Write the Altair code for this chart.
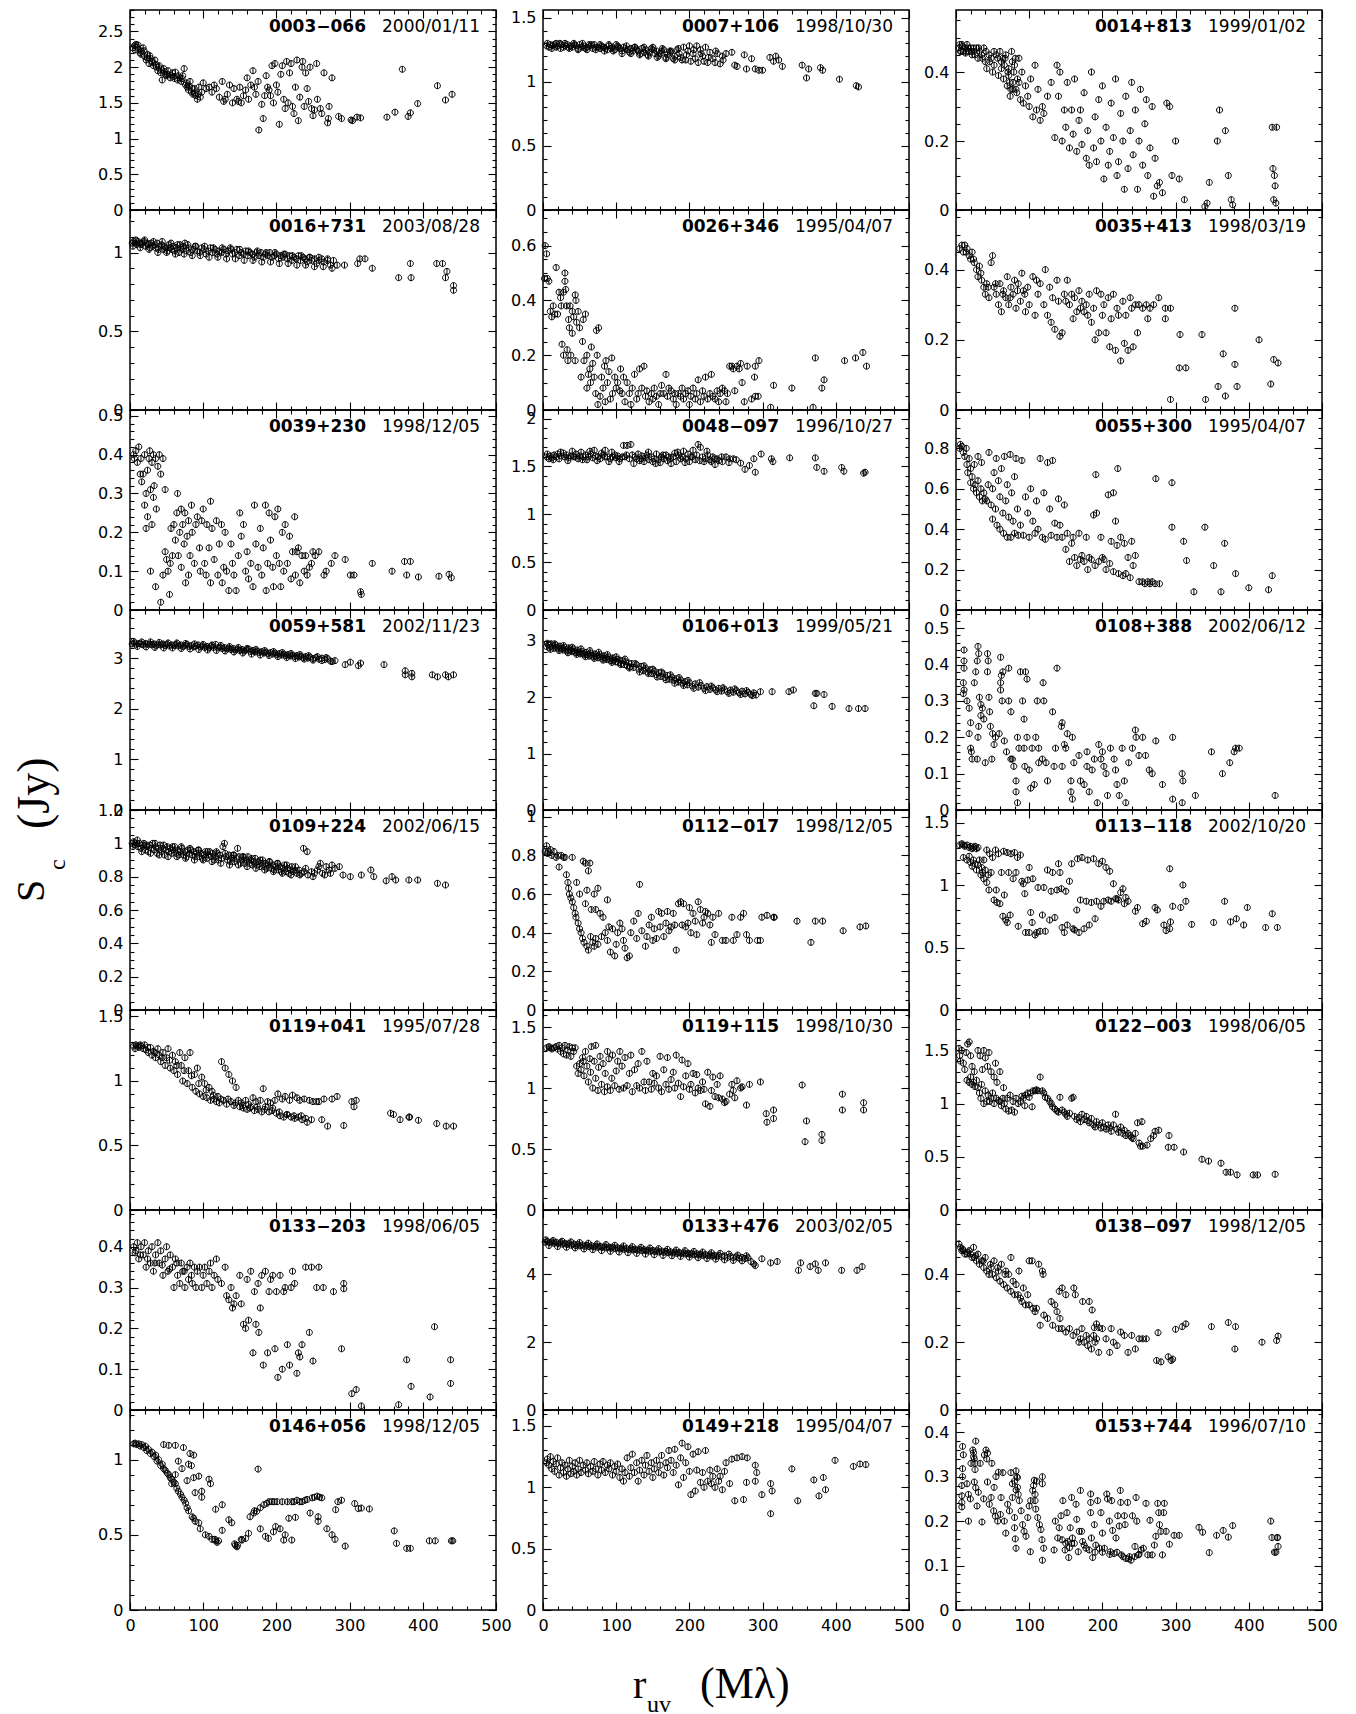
import altair as alt
import pandas as pd

W, H = 366, 200
FONT = "DejaVu Sans"
SERIF = "Liberation Serif"
SYMBOL = "M-1,0A1,1,0,1,1,1,0A1,1,0,1,1,-1,0Z M0,-1L0,1"

NAMES = ["0003−066", "0007+106", "0014+813", "0016+731", "0026+346", "0035+413",
         "0039+230", "0048−097", "0055+300", "0059+581", "0106+013", "0108+388",
         "0109+224", "0112−017", "0113−118", "0119+041", "0119+115", "0122−003",
         "0133−203", "0133+476", "0138−097", "0146+056", "0149+218", "0153+744"]
DATES = ["2000/01/11", "1998/10/30", "1999/01/02", "2003/08/28", "1995/04/07", "1998/03/19",
         "1998/12/05", "1996/10/27", "1995/04/07", "2002/11/23", "1999/05/21", "2002/06/12",
         "2002/06/15", "1998/12/05", "2002/10/20", "1995/07/28", "1998/10/30", "1998/06/05",
         "1998/06/05", "2003/02/05", "1998/12/05", "1998/12/05", "1995/04/07", "1996/07/10"]
YMAX = [2.8, 1.56, 0.58, 1.27, 0.73, 0.57, 0.515, 2.09, 0.99, 3.95, 3.55, 0.55,
        1.2, 1.035, 1.6, 1.55, 1.64, 1.88, 0.49, 5.9, 0.59, 1.33, 1.63, 0.45]
YSTEP = [0.5, 0.5, 0.2, 0.5, 0.2, 0.2, 0.1, 0.5, 0.2, 1, 1, 0.1,
         0.2, 0.2, 0.5, 0.5, 0.5, 0.5, 0.1, 2, 0.2, 0.5, 0.5, 0.1]
YMINOR = [0.1, 0.1, 0.05, 0.1, 0.05, 0.05, 0.02, 0.1, 0.05, 0.2, 0.2, 0.02,
          0.05, 0.05, 0.1, 0.1, 0.1, 0.1, 0.02, 0.5, 0.05, 0.1, 0.1, 0.02]
X_MAJOR = [0, 100, 200, 300, 400, 500]
X_MINOR = [20, 40, 60, 80, 120, 140, 160, 180, 220, 240, 260, 280,
           320, 340, 360, 380, 420, 440, 460, 480]

P00 = [(4,2.27),(6,2.3),(8,2.32),(10,2.28),(12,2.25),(14,2.2),(16,2.22),(18,2.27),(20,2.15),(22,2.1),(24,2.18),(26,2.05),(28,2.12),(30,2.08),(32,2.02),(34,2.1),(36,2.0),(38,1.95),(40,2.02),(42,1.92),(44,1.82),(46,1.98),(48,1.9),(50,1.88),(52,1.95),(55,1.85),(58,1.92),(60,1.87),(62,1.93),(65,1.82),(68,1.85),(70,1.8),(72,1.88),(74,1.98),(76,1.75),(78,1.72),(80,1.68),(82,1.8),(84,1.65),(86,1.62),(88,1.7),(90,1.6),(92,1.55),(94,1.72),(96,1.58),(98,1.65),(100,1.78),(104,1.7),(108,1.72),(112,1.65),(115,1.75),(118,1.7),(122,1.58),(126,1.8),(128,1.52),(130,1.55),(133,1.62),(136,1.75),(140,1.5),(142,1.7),(146,1.55),(148,1.52),(150,1.72),(152,1.5),(155,1.6),(158,1.68),(160,1.85),(162,1.55),(165,1.75),(168,1.95),(170,1.72),(172,1.62),(175,1.8),(176,1.12),(180,1.48),(182,1.28),(184,1.6),(186,1.88),(188,1.72),(190,1.68),(192,1.6),(194,2.02),(196,1.5),(198,2.05),(200,1.75),(202,1.65),(204,1.2),(206,1.9),(208,2.02),(210,1.55),(212,1.42),(214,2.08),(216,1.5),(218,1.92),(220,2.05),(222,1.45),(224,1.35),(226,1.72),(228,2.1),(230,1.25),(232,1.58),(235,2.0),(236,2.08),(238,1.45),(240,1.92),(242,1.7),(244,1.52),(246,2.0),(248,1.42),(250,1.32),(252,1.4),(255,2.05),(256,1.55),(260,1.42),(262,1.35),(265,1.92),(270,1.22),(271,1.28),(272,1.45),(276,1.85),(285,1.31),(289,1.28),(302,1.26),(304,1.25),(310,1.3),(315,1.29),(351,1.3),(362,1.37),(372,1.97),(380,1.31),(383,1.36),(393,1.49),(420,1.74),(431,1.54),(440,1.62),
       (7,2.24),(11,2.31),(15,2.18),(19,2.23),(23,2.13),(27,2.16),(31,2.06),(35,2.04),(39,2.0),(43,1.96),(47,1.94),(51,1.9),(56,1.89),(61,1.84),(66,1.88),(71,1.84),(77,1.78),(81,1.74),(85,1.7),(89,1.64),(93,1.62)]

P01 = [(5,1.28),(8,1.27),(10,1.29),(13,1.28),(15,1.29),(18,1.27),(20,1.28),(23,1.3),(25,1.29),(28,1.27),(30,1.28),(33,1.29),(35,1.27),(38,1.28),(40,1.27),(43,1.29),(45,1.28),(48,1.26),(50,1.29),(53,1.27),(55,1.28),(58,1.26),(60,1.27),(63,1.29),(65,1.28),(68,1.26),(70,1.29),(73,1.27),(75,1.27),(78,1.26),(80,1.28),(83,1.27),(85,1.26),(88,1.25),(90,1.28),(93,1.26),(95,1.27),(98,1.25),(100,1.29),(103,1.27),(105,1.26),(108,1.24),(110,1.27),(113,1.26),(115,1.25),(118,1.23),(120,1.26),(123,1.24),(125,1.27),(128,1.25),(130,1.24),(133,1.22),(135,1.26),(138,1.23),(140,1.25),(143,1.21),(145,1.23),(148,1.26),(150,1.27),(153,1.22),(155,1.24),(158,1.2),(160,1.22),(163,1.26),(165,1.25),(168,1.19),(170,1.21),(173,1.24),(175,1.24),(178,1.18),(180,1.2),(183,1.25),(185,1.26),(188,1.19),(190,1.17),(192,1.27),(195,1.17),(198,1.24),(200,1.28),(202,1.16),(205,1.22),(208,1.18),(210,1.28),(212,1.15),(215,1.25),(218,1.2),(220,1.16),(222,1.27),(225,1.15),(228,1.23),(232,1.18),(235,1.15),(238,1.22),(242,1.14),(245,1.2),(250,1.22),(258,1.23),(262,1.13),(265,1.12),(275,1.21),(278,1.1),(285,1.18),(290,1.1),(295,1.09),(300,1.09),(310,1.19),(315,1.16),(318,1.2),(322,1.17),(327,1.12),(354,1.13),(360,1.03),(363,1.1),(379,1.11),(382,1.09),(405,1.02),(428,0.97),(431,0.96),
       (6,1.3),(12,1.26),(18,1.3),(24,1.26),(30,1.3),(36,1.26),(42,1.3),(48,1.25),(54,1.3),(60,1.25),(66,1.29),(72,1.25),(78,1.29),(84,1.24),(90,1.29),(96,1.24),(102,1.28),(108,1.22),(114,1.28),(120,1.22),(126,1.27),(132,1.21),(138,1.27),(144,1.2),(150,1.25),(156,1.19),(162,1.24),(168,1.18),(174,1.23),(180,1.17),(186,1.22),(196,1.21),(206,1.25),(216,1.22),(226,1.19),(236,1.24),(246,1.17)]

P02 = [(4,0.47),(5,0.48),(7,0.46),(8,0.48),(10,0.46),(12,0.47),(14,0.46),(15,0.48),(18,0.46),(20,0.47),(22,0.45),(24,0.47),(25,0.46),(28,0.47),(30,0.44),(32,0.46),(35,0.45),(38,0.47),(40,0.43),(42,0.41),(45,0.45),(48,0.44),(50,0.4),(52,0.42),(55,0.45),(58,0.39),(60,0.46),(62,0.43),(64,0.44),(65,0.38),(66,0.42),(68,0.45),(70,0.36),(71,0.4),(72,0.41),(73,0.37),(74,0.33),(75,0.35),(76,0.46),(77,0.43),(78,0.37),(80,0.42),(82,0.35),(84,0.38),(86,0.44),(88,0.32),(90,0.4),(92,0.31),(95,0.36),(98,0.33),(100,0.3),(102,0.38),(105,0.27),(108,0.42),(110,0.29),(112,0.35),(115,0.26),(118,0.3),(120,0.28),(125,0.33),(130,0.37),(135,0.21),(138,0.42),(140,0.33),(142,0.4),(145,0.2),(148,0.29),(150,0.24),(152,0.37),(155,0.18),(158,0.29),(160,0.22),(162,0.38),(165,0.17),(168,0.26),(170,0.29),(172,0.19),(175,0.34),(178,0.15),(180,0.23),(182,0.13),(185,0.4),(188,0.18),(190,0.27),(192,0.14),(195,0.32),(198,0.2),(200,0.36),(202,0.09),(205,0.24),(208,0.13),(210,0.17),(212,0.31),(215,0.21),(218,0.38),(220,0.1),(222,0.14),(225,0.28),(228,0.2),(230,0.06),(232,0.33),(235,0.12),(238,0.23),(240,0.37),(242,0.16),(245,0.29),(248,0.06),(250,0.2),(252,0.35),(255,0.13),(258,0.25),(260,0.32),(262,0.1),(265,0.18),(268,0.3),(270,0.04),(272,0.15),(275,0.07),(278,0.08),(282,0.05),(288,0.31),(292,0.3),(295,0.1),(300,0.2),(305,0.09),(312,0.03),(340,0.01),(343,0.02),(346,0.08),(357,0.2),(360,0.29),(368,0.23),(372,0.1),(376,0.03),(378,0.015),(432,0.24),(433,0.12),(434,0.03),(435,0.1),(436,0.07),(437,0.02),(438,0.24),
       (6,0.46),(9,0.475),(13,0.455),(17,0.47),(21,0.46),(26,0.45),(31,0.47),(36,0.44),(41,0.46),(46,0.43),(52,0.46),(57,0.44),(62,0.41),(67,0.44),(72,0.39),(77,0.35),(79,0.4),(81,0.44),(83,0.34),(86,0.37)]

P03 = [(3,1.06),(5,1.07),(7,1.06),(9,1.05),(11,1.07),(13,1.06),(15,1.05),(17,1.06),(19,1.07),(21,1.04),(23,1.06),(25,1.05),(27,1.03),(29,1.06),(31,1.04),(33,1.05),(35,1.03),(37,1.06),(39,1.02),(41,1.04),(43,1.05),(45,1.02),(47,1.04),(49,1.03),(51,1.01),(53,1.05),(55,1.03),(57,1.02),(59,1.04),(61,1.01),(63,1.03),(65,1.05),(67,1.0),(69,1.03),(71,1.02),(73,1.04),(75,1.06),(77,1.01),(80,1.03),(83,1.0),(86,1.02),(89,1.04),(92,1.01),(95,1.0),(98,1.03),(101,1.02),(104,0.99),(107,1.01),(110,1.03),(113,1.0),(116,1.02),(119,0.99),(122,1.01),(125,1.0),(128,1.02),(131,0.99),(134,1.01),(137,1.03),(140,0.99),(143,1.0),(146,1.02),(149,0.98),(152,1.0),(155,0.99),(158,1.01),(161,0.98),(164,1.0),(167,0.99),(170,0.97),(173,1.0),(176,0.98),(179,1.0),(182,0.97),(185,0.99),(188,0.98),(191,1.0),(194,0.97),(197,0.98),(200,0.99),(203,0.96),(206,0.98),(209,0.97),(212,0.99),(215,0.96),(218,0.98),(221,0.95),(224,0.97),(227,0.96),(230,0.98),(233,0.95),(236,0.97),(239,0.96),(242,0.94),(245,0.97),(248,0.95),(252,0.96),(255,0.93),(258,0.95),(262,0.96),(265,0.94),(270,0.95),(274,0.92),(278,0.95),(283,0.92),(293,0.92),(311,0.93),(314,0.96),(321,0.96),(331,0.9),(367,0.84),(383,0.93),(384,0.84),(419,0.93),(427,0.93),(431,0.84),(433,0.88),(442,0.79),(442,0.76),
       (4,1.04),(8,1.08),(14,1.03),(20,1.08),(26,1.02),(32,1.07),(38,1.0),(44,1.07),(50,1.0),(56,1.06),(62,0.99),(68,1.05),(74,0.99),(79,1.05),(85,0.98),(90,1.04),(96,0.98),(102,1.04),(108,0.97),(114,1.03),(120,0.97),(126,1.03),(132,0.96),(138,1.02),(144,0.96),(150,1.02),(156,0.95),(162,1.01),(168,0.95),(174,1.01),(180,0.94),(186,1.0),(192,0.94),(198,1.0),(204,0.93),(210,0.99),(216,0.93),(222,0.98),(228,0.92),(234,0.98),(240,0.92),(246,0.97),(252,0.91),(258,0.97),(264,0.91),(270,0.96),(276,0.9)]

P04 = [(2,0.48),(3,0.6),(5,0.57),(6,0.48),(8,0.47),(10,0.36),(12,0.34),(14,0.38),(16,0.35),(18,0.52),(20,0.35),(22,0.43),(24,0.41),(25,0.38),(26,0.24),(28,0.43),(28,0.2),(30,0.5),(30,0.47),(31,0.44),(32,0.38),(33,0.22),(34,0.18),(35,0.33),(36,0.3),(37,0.38),(38,0.2),(40,0.28),(40,0.36),(42,0.34),(44,0.42),(44,0.18),(45,0.4),(46,0.32),(48,0.36),(50,0.3),(52,0.12),(54,0.25),(55,0.33),(56,0.18),(58,0.35),(60,0.08),(60,0.2),(62,0.13),(64,0.15),(65,0.1),(66,0.23),(68,0.17),(70,0.12),(72,0.06),(73,0.29),(74,0.2),(75,0.02),(76,0.3),(78,0.05),(80,0.12),(82,0.08),(84,0.16),(85,0.03),(86,0.18),(88,0.1),(90,0.14),(92,0.04),(94,0.19),(95,0.06),(98,0.12),(100,0.08),(102,0.1),(105,0.07),(106,0.15),(108,0.06),(110,0.12),(112,0.03),(115,0.1),(118,0.06),(120,0.02),(122,0.08),(125,0.13),(128,0.04),(130,0.06),(132,0.15),(135,0.08),(138,0.16),(140,0.05),(142,0.07),(145,0.03),(148,0.06),(150,0.04),(152,0.08),(155,0.05),(158,0.02),(160,0.06),(162,0.09),(165,0.06),(168,0.13),(170,0.05),(172,0.08),(175,0.07),(178,0.04),(180,0.06),(182,0.02),(185,0.06),(188,0.05),(190,0.08),(192,0.04),(195,0.06),(198,0.07),(200,0.02),(202,0.05),(205,0.08),(208,0.04),(210,0.06),(212,0.11),(215,0.03),(218,0.07),(220,0.05),(222,0.12),(225,0.04),(228,0.06),(230,0.13),(232,0.05),(235,0.04),(238,0.07),(240,0.03),(242,0.06),(245,0.08),(248,0.07),(250,0.03),(252,0.06),(255,0.16),(258,0.16),(260,0.15),(262,0.07),(265,0.16),(268,0.15),(270,0.17),(272,0.1),(275,0.03),(279,0.16),(285,0.04),(289,0.12),(290,0.16),(290,0.05),(294,0.05),(295,0.18),(311,0.01),(315,0.09),(340,0.08),(369,0.01),(372,0.19),(381,0.08),(384,0.11),(412,0.18),(427,0.19),(437,0.21),(442,0.16)]

P05 = [(5,0.46),(8,0.47),(10,0.45),(12,0.47),(15,0.46),(18,0.44),(20,0.43),(22,0.45),(25,0.42),(28,0.4),(30,0.38),(32,0.41),(35,0.37),(38,0.35),(40,0.33),(42,0.36),(45,0.32),(48,0.42),(50,0.44),(52,0.35),(55,0.33),(58,0.3),(60,0.36),(62,0.28),(65,0.34),(68,0.32),(70,0.38),(72,0.3),(75,0.35),(78,0.33),(80,0.37),(82,0.29),(85,0.36),(88,0.31),(90,0.39),(92,0.34),(95,0.28),(98,0.35),(100,0.3),(105,0.38),(108,0.27),(110,0.37),(112,0.33),(115,0.36),(120,0.3),(122,0.4),(125,0.27),(128,0.35),(130,0.25),(132,0.32),(135,0.23),(138,0.37),(140,0.31),(142,0.21),(145,0.22),(148,0.33),(150,0.31),(152,0.37),(155,0.3),(158,0.33),(160,0.26),(162,0.32),(165,0.28),(168,0.34),(170,0.29),(172,0.31),(175,0.28),(178,0.3),(180,0.27),(182,0.33),(185,0.25),(188,0.29),(190,0.2),(192,0.34),(195,0.22),(198,0.33),(200,0.27),(202,0.3),(205,0.22),(208,0.32),(210,0.18),(212,0.26),(215,0.33),(218,0.17),(220,0.29),(222,0.27),(225,0.14),(228,0.31),(230,0.19),(232,0.27),(235,0.17),(238,0.32),(240,0.29),(242,0.18),(245,0.3),(248,0.22),(250,0.3),(255,0.29),(260,0.3),(262,0.26),(265,0.29),(270,0.3),(277,0.32),(286,0.29),(286,0.26),(293,0.29),(293,0.03),(305,0.12),(314,0.12),(306,0.215),(336,0.215),(341,0.03),(358,0.067),(365,0.16),(368,0.04),(381,0.29),(381,0.13),(384,0.067),(414,0.2),(430,0.074),(434,0.144),(440,0.134),
       (14,0.45),(24,0.43),(34,0.39),(44,0.35),(54,0.36),(64,0.33),(74,0.32),(84,0.34),(94,0.33)]

P06 = [(5,0.4),(6,0.39),(8,0.41),(10,0.38),(12,0.42),(14,0.35),(15,0.39),(16,0.33),(18,0.35),(20,0.4),(20,0.27),(22,0.3),(22,0.21),(24,0.24),(24,0.36),(26,0.39),(27,0.41),(28,0.31),(30,0.38),(30,0.22),(32,0.4),(32,0.29),(33,0.32),(35,0.39),(36,0.26),(38,0.37),(40,0.4),(42,0.35),(45,0.39),(48,0.31),(28,0.1),(35,0.06),(42,0.02),(45,0.09),(48,0.15),(50,0.13),(52,0.1),(54,0.04),(55,0.12),(56,0.21),(58,0.14),(60,0.22),(62,0.18),(64,0.25),(65,0.3),(66,0.14),(68,0.2),(70,0.26),(70,0.11),(72,0.22),(74,0.17),(75,0.25),(76,0.07),(78,0.19),(80,0.23),(80,0.09),(82,0.14),(84,0.27),(85,0.2),(88,0.12),(90,0.22),(92,0.24),(95,0.16),(96,0.1),(98,0.23),(100,0.26),(102,0.12),(104,0.09),(105,0.22),(108,0.16),(110,0.28),(110,0.07),(112,0.21),(115,0.13),(118,0.23),(120,0.09),(122,0.17),(125,0.22),(126,0.07),(128,0.11),(130,0.2),(132,0.1),(135,0.05),(138,0.17),(140,0.12),(142,0.09),(145,0.05),(148,0.14),(150,0.25),(152,0.19),(155,0.22),(158,0.1),(160,0.15),(162,0.08),(165,0.12),(168,0.06),(170,0.27),(172,0.17),(175,0.11),(178,0.21),(180,0.09),(182,0.16),(185,0.27),(186,0.05),(188,0.12),(190,0.25),(192,0.18),(195,0.11),(196,0.06),(198,0.24),(200,0.14),(202,0.26),(204,0.12),(206,0.06),(208,0.2),(210,0.1),(212,0.22),(215,0.12),(218,0.19),(220,0.08),(222,0.15),(225,0.24),(226,0.09),(228,0.15),(230,0.16),(232,0.07),(235,0.14),(238,0.1),(240,0.14),(242,0.09),(245,0.11),(248,0.12),(250,0.15),(253,0.14),(258,0.15),(265,0.09),(268,0.1),(275,0.12),(280,0.14),(294,0.13),(301,0.09),(306,0.09),(315,0.047),(316,0.04),(331,0.12),(358,0.1),(375,0.125),(378,0.09),(383,0.125),(394,0.085),(422,0.087),(436,0.092),(439,0.083)]

P07 = [(5,1.6),(8,1.58),(10,1.61),(12,1.59),(15,1.62),(18,1.6),(20,1.63),(22,1.58),(25,1.61),(28,1.64),(30,1.6),(32,1.62),(35,1.59),(38,1.61),(40,1.66),(42,1.6),(45,1.63),(48,1.58),(50,1.61),(52,1.65),(55,1.6),(58,1.62),(60,1.57),(62,1.6),(65,1.63),(68,1.59),(70,1.67),(72,1.61),(75,1.6),(78,1.58),(80,1.64),(82,1.62),(85,1.67),(88,1.6),(90,1.55),(92,1.58),(95,1.6),(98,1.62),(100,1.59),(102,1.61),(105,1.58),(108,1.6),(110,1.72),(112,1.6),(115,1.72),(118,1.58),(120,1.73),(122,1.62),(124,1.53),(126,1.6),(128,1.58),(130,1.63),(132,1.56),(135,1.61),(138,1.55),(140,1.59),(142,1.62),(145,1.57),(148,1.6),(150,1.55),(152,1.58),(155,1.63),(158,1.57),(160,1.54),(162,1.6),(165,1.58),(168,1.62),(170,1.56),(172,1.6),(175,1.53),(178,1.6),(180,1.64),(182,1.55),(185,1.62),(188,1.58),(190,1.6),(192,1.66),(195,1.58),(198,1.63),(200,1.55),(202,1.6),(205,1.67),(208,1.57),(210,1.62),(212,1.73),(215,1.7),(218,1.6),(220,1.55),(222,1.58),(225,1.62),(228,1.57),(230,1.55),(232,1.6),(235,1.52),(238,1.58),(240,1.56),(245,1.55),(250,1.6),(255,1.58),(260,1.58),(270,1.535),(276,1.47),(282,1.51),(288,1.58),(290,1.44),(298,1.63),(312,1.58),(314,1.55),(337,1.59),(372,1.59),(374,1.49),(384,1.45),(408,1.49),(411,1.45),(438,1.43),(440,1.44),
       (6,1.63),(14,1.57),(24,1.65),(34,1.56),(44,1.6),(54,1.57),(64,1.66),(74,1.56),(84,1.6),(94,1.65),(104,1.55),(114,1.62),(134,1.58),(144,1.65),(154,1.53),(164,1.62),(174,1.58),(184,1.65),(194,1.54),(204,1.6),(214,1.56),(224,1.66),(234,1.58),(244,1.6),(254,1.54),(264,1.57)]

P08 = [(5,0.8),(6,0.82),(8,0.81),(10,0.78),(12,0.76),(14,0.8),(15,0.72),(16,0.68),(18,0.75),(20,0.7),(20,0.63),(22,0.66),(24,0.6),(25,0.72),(26,0.62),(28,0.58),(30,0.64),(30,0.76),(32,0.56),(34,0.6),(35,0.73),(36,0.54),(38,0.58),(40,0.55),(42,0.54),(44,0.62),(45,0.78),(48,0.52),(50,0.6),(50,0.45),(52,0.68),(54,0.5),(55,0.75),(56,0.42),(58,0.64),(60,0.56),(60,0.4),(62,0.7),(64,0.48),(65,0.38),(66,0.76),(68,0.54),(70,0.36),(70,0.62),(72,0.46),(74,0.77),(75,0.36),(76,0.58),(78,0.44),(80,0.38),(80,0.66),(82,0.75),(84,0.5),(85,0.37),(88,0.42),(90,0.74),(92,0.37),(95,0.56),(98,0.48),(100,0.36),(102,0.6),(105,0.44),(108,0.38),(110,0.54),(112,0.4),(115,0.75),(118,0.36),(120,0.58),(122,0.35),(125,0.73),(128,0.5),(130,0.37),(132,0.74),(135,0.43),(138,0.36),(140,0.55),(142,0.42),(145,0.36),(148,0.52),(150,0.3),(152,0.38),(155,0.24),(158,0.33),(160,0.36),(162,0.26),(165,0.22),(168,0.38),(170,0.25),(172,0.27),(175,0.24),(178,0.36),(180,0.2),(182,0.26),(185,0.25),(188,0.47),(190,0.22),(191,0.67),(192,0.48),(195,0.24),(198,0.36),(200,0.26),(202,0.25),(205,0.2),(208,0.57),(210,0.23),(212,0.34),(215,0.58),(215,0.19),(218,0.44),(220,0.32),(221,0.7),(222,0.18),(225,0.36),(228,0.17),(230,0.33),(232,0.18),(235,0.26),(238,0.16),(240,0.34),(242,0.22),(245,0.27),(250,0.14),(255,0.14),(258,0.13),(262,0.14),(265,0.13),(268,0.14),(272,0.13),(273,0.65),(278,0.13),(295,0.63),(295,0.41),(311,0.34),(315,0.245),(325,0.09),(340,0.41),(352,0.22),(362,0.09),(367,0.33),(382,0.18),(400,0.11),(427,0.1),(432,0.17)]

P09 = [(3,3.28),(6,3.3),(9,3.27),(12,3.29),(15,3.28),(18,3.26),(21,3.29),(24,3.27),(27,3.28),(30,3.26),(33,3.28),(36,3.25),(39,3.27),(42,3.26),(45,3.28),(48,3.25),(51,3.27),(54,3.24),(57,3.26),(60,3.25),(63,3.27),(66,3.24),(69,3.26),(72,3.23),(75,3.25),(78,3.27),(81,3.23),(84,3.25),(87,3.22),(90,3.24),(93,3.26),(96,3.22),(99,3.24),(102,3.21),(105,3.23),(108,3.2),(111,3.24),(114,3.21),(117,3.27),(120,3.2),(123,3.22),(126,3.19),(129,3.21),(132,3.18),(135,3.2),(138,3.17),(141,3.19),(144,3.16),(147,3.18),(150,3.15),(153,3.17),(156,3.14),(159,3.16),(162,3.18),(165,3.13),(168,3.15),(171,3.12),(174,3.14),(177,3.11),(180,3.13),(183,3.1),(186,3.12),(189,3.09),(192,3.11),(195,3.08),(198,3.1),(201,3.07),(204,3.09),(207,3.06),(210,3.08),(213,3.05),(216,3.07),(219,3.04),(222,3.06),(225,3.03),(228,3.05),(231,3.02),(234,3.04),(237,3.01),(240,3.03),(243,3.0),(246,3.02),(250,2.99),(254,3.01),(258,2.98),(262,3.0),(266,2.97),(270,2.99),(276,2.93),(280,2.95),(294,2.87),(301,2.92),(312,2.85),(315,2.9),(347,2.87),(376,2.75),(376,2.67),(385,2.7),(385,2.63),(413,2.67),(420,2.63),(431,2.67),(435,2.63),(442,2.67),
       (5,3.33),(10,3.23),(16,3.32),(22,3.22),(28,3.32),(34,3.21),(40,3.31),(46,3.2),(52,3.3),(58,3.2),(64,3.3),(70,3.19),(76,3.29),(82,3.18),(88,3.28),(94,3.17),(100,3.27),(106,3.16),(112,3.26),(118,3.15),(124,3.25),(130,3.14),(136,3.23),(142,3.12),(148,3.21),(154,3.1),(160,3.19),(166,3.08),(172,3.17),(178,3.06),(184,3.15),(190,3.05),(196,3.13),(202,3.03),(208,3.11),(214,3.01),(220,3.09),(226,2.99),(232,3.07),(238,2.98),(244,3.05),(250,2.96),(256,3.03),(262,2.95),(268,3.01),(274,2.94)]

P10 = [(5,2.9),(7,2.93),(9,2.88),(11,2.95),(13,2.91),(15,2.87),(17,2.93),(19,2.89),(21,2.86),(23,2.91),(25,2.87),(27,2.84),(29,2.89),(31,2.85),(33,2.82),(35,2.88),(37,2.84),(39,2.81),(41,2.86),(43,2.82),(45,2.79),(47,2.84),(49,2.8),(51,2.77),(53,2.82),(55,2.78),(57,2.75),(59,2.8),(61,2.76),(63,2.73),(65,2.79),(67,2.75),(69,2.72),(71,2.77),(73,2.73),(75,2.7),(77,2.76),(79,2.72),(81,2.69),(83,2.74),(85,2.7),(87,2.67),(89,2.72),(91,2.68),(93,2.65),(95,2.7),(97,2.66),(99,2.63),(101,2.68),(103,2.62),(105,2.66),(107,2.6),(109,2.65),(111,2.58),(113,2.63),(115,2.56),(117,2.61),(119,2.54),(121,2.6),(124,2.53),(128,2.58),(131,2.5),(134,2.55),(137,2.47),(140,2.52),(143,2.45),(146,2.49),(149,2.42),(152,2.47),(155,2.4),(158,2.44),(161,2.37),(164,2.42),(167,2.35),(170,2.39),(173,2.32),(176,2.36),(179,2.3),(182,2.33),(185,2.27),(188,2.31),(191,2.25),(194,2.28),(197,2.22),(200,2.26),(204,2.2),(208,2.24),(212,2.18),(216,2.21),(220,2.16),(224,2.19),(228,2.14),(232,2.17),(236,2.13),(240,2.16),(244,2.11),(248,2.14),(252,2.1),(256,2.13),(260,2.09),(264,2.12),(268,2.08),(272,2.11),(276,2.06),(280,2.09),(284,2.05),(288,2.08),(291,2.04),(297,2.1),(313,2.1),(336,2.1),(342,2.13),(370,1.85),(372,2.07),(374,2.07),(384,2.05),(395,1.84),(418,1.8),(431,1.8),(440,1.8),
       (6,2.96),(10,2.85),(16,2.95),(22,2.83),(28,2.92),(34,2.79),(40,2.89),(46,2.76),(52,2.86),(58,2.72),(64,2.83),(70,2.69),(76,2.8),(82,2.66),(88,2.76),(94,2.62),(100,2.72),(106,2.58),(112,2.68),(118,2.52),(126,2.6),(132,2.45),(138,2.56),(144,2.42),(150,2.5),(156,2.36),(162,2.45),(168,2.31),(174,2.4),(180,2.25),(186,2.35),(192,2.21),(198,2.3),(206,2.16),(214,2.26),(222,2.12),(230,2.2),(238,2.1),(246,2.17),(254,2.07),(262,2.15),(270,2.05),(278,2.12),(286,2.03)]

P11 = [(11,0.44),(11,0.41),(11,0.39),(10,0.35),(11,0.33),(10,0.32),(15,0.3),(18,0.28),(20,0.24),(18,0.21),(20,0.17),(21,0.16),(22,0.14),(25,0.35),(27,0.38),(29,0.41),(30,0.45),(31,0.43),(32,0.31),(34,0.29),(34,0.26),(31,0.23),(30,0.2),(36,0.28),(38,0.25),(29,0.14),(40,0.13),(43,0.43),(44,0.41),(43,0.38),(45,0.31),(46,0.27),(47,0.23),(50,0.21),(52,0.18),(49,0.14),(54,0.2),(59,0.21),(61,0.42),(62,0.37),(61,0.35),(61,0.33),(63,0.3),(64,0.38),(66,0.19),(69,0.16),(72,0.39),(72,0.3),(75,0.27),(75,0.14),(77,0.14),(79,0.12),(82,0.08),(82,0.05),(84,0.02),(84,0.2),(86,0.17),(88,0.38),(91,0.3),(93,0.25),(93,0.17),(94,0.12),(95,0.38),(97,0.36),(97,0.2),(100,0.11),(102,0.06),(104,0.17),(107,0.07),(109,0.2),(111,0.3),(113,0.17),(113,0.13),(118,0.14),(119,0.35),(120,0.3),(123,0.13),(125,0.08),(132,0.27),(134,0.12),(136,0.17),(138,0.39),(144,0.23),(145,0.24),(145,0.12),(148,0.18),(150,0.17),(152,0.21),(157,0.08),(157,0.05),(159,0.03),(159,0.2),(161,0.13),(168,0.15),(170,0.08),(175,0.07),(179,0.12),(179,0.16),(182,0.05),(186,0.11),(189,0.14),(193,0.02),(195,0.18),(198,0.14),(200,0.16),(202,0.12),(205,0.1),(207,0.04),(211,0.17),(216,0.14),(218,0.11),(220,0.07),(223,0.04),(227,0.17),(230,0.08),(232,0.02),(236,0.13),(241,0.17),(245,0.22),(246,0.2),(250,0.15),(255,0.2),(259,0.15),(264,0.11),(268,0.1),(273,0.19),(282,0.07),(296,0.2),(296,0.03),(309,0.1),(310,0.08),(309,0.02),(327,0.04),(349,0.16),(364,0.1),(374,0.13),(380,0.16),(382,0.17),(387,0.17),(436,0.04)]

P12 = [(3,1.0),(5,1.01),(7,0.99),(9,1.0),(11,0.98),(13,1.0),(15,0.97),(17,0.99),(19,1.0),(21,0.96),(23,0.98),(25,0.95),(27,0.99),(29,0.97),(31,1.0),(33,0.96),(35,0.98),(37,0.94),(39,0.97),(41,0.99),(43,0.95),(45,0.97),(47,0.93),(49,0.96),(51,0.98),(53,0.95),(55,0.97),(57,0.94),(59,0.96),(61,0.98),(63,0.94),(65,0.96),(67,0.93),(69,0.95),(71,0.97),(73,0.93),(75,0.95),(77,0.92),(79,0.96),(81,0.94),(83,0.96),(85,0.93),(87,0.95),(89,0.92),(91,0.94),(93,0.96),(95,0.92),(97,0.94),(99,0.91),(101,0.93),(103,0.95),(105,0.91),(107,0.93),(109,0.95),(111,0.92),(113,0.94),(115,0.9),(117,0.92),(119,0.94),(121,0.9),(123,0.93),(125,0.91),(127,0.98),(129,1.0),(131,0.92),(133,0.9),(135,0.93),(137,0.89),(139,0.91),(141,0.93),(143,0.89),(145,0.91),(147,0.97),(149,0.92),(151,0.88),(153,0.9),(155,0.92),(157,0.88),(159,0.9),(161,0.92),(163,0.88),(165,0.9),(167,0.87),(169,0.89),(171,0.91),(173,0.87),(175,0.89),(177,0.86),(179,0.88),(181,0.9),(183,0.86),(185,0.88),(187,0.85),(189,0.87),(191,0.89),(193,0.85),(195,0.87),(197,0.84),(199,0.86),(201,0.88),(203,0.84),(205,0.86),(207,0.83),(209,0.85),(211,0.87),(213,0.83),(215,0.85),(217,0.82),(219,0.84),(221,0.86),(223,0.83),(225,0.84),(228,0.82),(231,0.84),(234,0.82),(237,0.97),(238,0.83),(242,0.95),(243,0.81),(248,0.83),(252,0.82),(256,0.84),(260,0.88),(263,0.82),(268,0.86),(272,0.84),(276,0.87),(280,0.85),(286,0.86),(291,0.81),(301,0.8),(316,0.81),(329,0.84),(333,0.8),(350,0.775),(358,0.8),(363,0.78),(381,0.78),(393,0.78),(420,0.76),(431,0.75),
       (4,0.98),(10,1.02),(16,0.95),(22,0.99),(28,0.94),(34,1.0),(40,0.93),(46,0.99),(52,0.92),(58,0.98),(64,0.92),(70,0.98),(76,0.91),(82,0.97),(88,0.9),(94,0.96),(100,0.9),(106,0.95),(112,0.89),(118,0.95),(124,0.88),(130,0.94),(136,0.87),(142,0.93),(148,0.87),(154,0.92),(160,0.86),(166,0.91),(172,0.85),(178,0.9),(184,0.84),(190,0.89),(196,0.83),(202,0.88),(208,0.82),(214,0.87),(220,0.81),(226,0.86),(232,0.81),(240,0.85),(250,0.8),(258,0.86),(266,0.81),(274,0.82)]

P13 = [(3,0.82),(5,0.85),(6,0.81),(8,0.82),(10,0.83),(12,0.8),(15,0.82),(18,0.79),(20,0.8),(22,0.74),(25,0.8),(28,0.79),(30,0.79),(32,0.7),(34,0.66),(35,0.63),(36,0.6),(38,0.58),(40,0.56),(40,0.79),(42,0.53),(44,0.5),(45,0.48),(46,0.66),(48,0.45),(50,0.42),(50,0.6),(52,0.4),(54,0.37),(55,0.77),(56,0.35),(58,0.76),(58,0.55),(60,0.62),(60,0.33),(62,0.72),(62,0.31),(64,0.76),(65,0.38),(66,0.52),(68,0.35),(70,0.6),(70,0.33),(72,0.52),(72,0.37),(75,0.63),(75,0.34),(78,0.5),(80,0.38),(82,0.48),(85,0.4),(88,0.57),(88,0.36),(90,0.43),(92,0.3),(95,0.42),(98,0.28),(100,0.34),(102,0.4),(105,0.45),(108,0.42),(110,0.36),(112,0.32),(115,0.27),(118,0.28),(120,0.4),(124,0.46),(128,0.37),(130,0.5),(132,0.65),(135,0.41),(140,0.33),(142,0.38),(145,0.44),(148,0.48),(150,0.36),(152,0.42),(155,0.37),(158,0.51),(160,0.43),(162,0.5),(165,0.38),(168,0.45),(170,0.51),(172,0.41),(175,0.43),(178,0.5),(180,0.44),(182,0.31),(185,0.55),(188,0.56),(190,0.44),(192,0.55),(195,0.43),(198,0.45),(200,0.53),(202,0.4),(205,0.5),(208,0.46),(210,0.39),(212,0.56),(215,0.52),(218,0.45),(220,0.48),(222,0.51),(225,0.5),(228,0.44),(230,0.35),(232,0.48),(235,0.39),(240,0.5),(245,0.36),(250,0.36),(258,0.48),(260,0.36),(265,0.39),(270,0.48),(274,0.5),(278,0.39),(282,0.36),(293,0.36),(297,0.36),(299,0.48),(306,0.49),(315,0.48),(316,0.48),(347,0.46),(366,0.35),(372,0.46),(382,0.46),(410,0.41),(433,0.43),(441,0.435)]

P14 = [(5,1.32),(8,1.33),(10,1.32),(12,1.31),(15,1.32),(18,1.3),(20,1.31),(22,1.29),(24,1.3),(26,1.31),(28,1.29),(30,1.3),(10,1.22),(15,1.2),(18,1.23),(20,1.18),(22,1.15),(24,1.2),(26,1.17),(28,1.12),(30,1.16),(32,1.2),(34,1.08),(35,1.14),(36,1.1),(38,1.05),(38,1.2),(40,1.12),(42,1.02),(42,1.28),(44,1.08),(45,0.96),(46,1.25),(48,1.1),(50,1.22),(52,0.88),(54,1.28),(55,0.96),(56,0.86),(58,1.25),(60,0.85),(62,1.1),(64,0.75),(65,1.27),(66,0.92),(68,0.72),(70,1.26),(70,0.7),(72,1.1),(74,0.76),(75,1.25),(78,1.05),(80,1.26),(82,1.1),(84,1.22),(85,0.67),(88,1.24),(90,1.03),(92,1.01),(94,0.93),(95,0.62),(98,1.04),(100,1.14),(100,0.62),(102,0.78),(104,0.7),(105,1.05),(108,0.6),(110,0.62),(112,0.98),(115,0.63),(118,0.76),(120,0.98),(122,0.63),(125,1.12),(128,0.72),(130,0.95),(132,1.1),(135,0.74),(138,0.96),(140,1.17),(142,1.1),(144,0.97),(145,0.66),(148,0.62),(150,0.95),(152,0.68),(155,1.03),(158,1.17),(160,0.65),(162,0.64),(165,0.8),(166,1.21),(168,0.62),(170,0.88),(172,1.22),(175,0.65),(178,0.87),(180,1.2),(182,0.68),(185,0.86),(188,1.21),(190,0.73),(192,0.87),(195,1.17),(198,0.83),(200,1.19),(202,0.87),(205,1.14),(208,0.88),(210,1.11),(212,0.87),(215,1.01),(218,0.89),(220,0.89),(222,0.88),(225,0.94),(228,0.97),(230,0.85),(232,0.9),(235,0.87),(245,0.79),(248,0.82),(255,0.69),(260,0.71),(272,0.82),(275,0.8),(284,0.68),(287,0.635),(292,0.65),(292,1.13),(293,0.705),(296,0.83),(307,0.82),(310,1.0),(314,0.87),(322,0.685),(352,0.7),(367,0.87),(375,0.705),(383,0.73),(393,0.68),(398,0.82),(423,0.66),(432,0.77),(439,0.66)]

P15 = [(5,1.27),(8,1.28),(10,1.27),(12,1.26),(15,1.27),(18,1.25),(20,1.28),(22,1.24),(25,1.22),(28,1.26),(30,1.2),(32,1.23),(35,1.18),(38,1.25),(40,1.2),(42,1.15),(45,1.22),(48,1.12),(50,1.18),(52,1.25),(55,1.1),(58,1.2),(60,1.08),(62,1.15),(65,1.05),(68,1.22),(70,1.12),(72,1.0),(75,1.18),(78,0.98),(80,1.08),(82,1.22),(85,0.95),(88,1.05),(90,0.92),(92,1.1),(95,0.9),(98,1.03),(100,0.88),(102,0.98),(105,0.87),(108,0.95),(110,0.85),(112,0.92),(115,0.86),(118,0.84),(120,0.88),(122,0.83),(125,1.15),(128,0.85),(130,1.1),(132,0.82),(135,1.05),(138,0.84),(140,1.0),(142,0.81),(145,0.95),(148,0.85),(150,0.8),(152,0.83),(155,0.79),(158,0.85),(160,0.78),(162,0.82),(165,0.8),(168,0.87),(170,0.77),(172,0.84),(175,0.78),(178,0.85),(180,0.76),(182,0.94),(185,0.8),(188,0.84),(190,0.76),(192,0.83),(195,0.79),(198,0.85),(200,0.75),(202,0.9),(205,0.73),(208,0.86),(210,0.72),(212,0.88),(215,0.74),(218,0.85),(220,0.72),(222,0.89),(225,0.71),(228,0.87),(230,0.72),(232,0.85),(235,0.7),(238,0.86),(240,0.71),(242,0.68),(245,0.85),(248,0.7),(250,0.84),(255,0.84),(258,0.84),(262,0.7),(265,0.86),(270,0.65),(276,0.86),(283,0.88),(292,0.655),(303,0.84),(306,0.8),(309,0.85),(356,0.75),(360,0.74),(369,0.7),(381,0.72),(382,0.72),(394,0.695),(419,0.67),(432,0.65),(442,0.65),
       (7,1.25),(14,1.28),(24,1.26),(34,1.22),(44,1.18),(54,1.16),(64,1.12),(74,1.08),(84,1.04),(94,0.98),(104,0.93),(114,0.89),(124,0.86),(134,0.86),(144,0.83),(154,0.81),(164,0.79),(174,0.8),(184,0.78),(194,0.77),(204,0.76),(214,0.74),(224,0.73),(234,0.73)]

P16 = [(5,1.33),(8,1.34),(10,1.33),(12,1.32),(15,1.33),(18,1.34),(20,1.32),(22,1.35),(24,1.3),(26,1.33),(28,1.28),(30,1.35),(32,1.27),(34,1.31),(36,1.34),(38,1.26),(40,1.33),(42,1.3),(44,1.33),(46,1.18),(48,1.12),(50,1.2),(52,1.15),(54,1.25),(55,1.22),(56,1.1),(58,1.3),(60,1.18),(62,1.05),(64,1.24),(65,1.13),(66,1.34),(68,1.0),(70,1.22),(72,1.35),(72,1.08),(75,0.98),(76,1.17),(78,1.26),(80,1.03),(82,1.2),(84,0.97),(85,1.12),(88,1.3),(88,1.01),(90,1.24),(92,0.98),(94,1.08),(95,1.27),(98,1.02),(100,1.14),(102,1.22),(104,0.99),(105,1.3),(108,1.18),(110,1.0),(112,1.25),(115,1.02),(118,1.12),(120,1.27),(122,0.97),(125,1.15),(128,1.02),(130,1.2),(132,1.0),(135,1.3),(138,1.05),(140,0.98),(142,1.22),(145,1.05),(148,0.99),(150,1.12),(152,1.04),(155,1.1),(158,1.0),(160,1.26),(162,0.97),(165,1.15),(168,1.03),(170,1.25),(172,0.99),(175,1.07),(178,1.13),(180,1.0),(182,1.27),(185,1.04),(188,0.93),(190,1.23),(192,1.01),(195,1.1),(198,1.2),(200,0.99),(202,1.03),(205,1.12),(208,0.96),(210,1.11),(212,1.0),(215,0.98),(218,1.05),(220,0.99),(222,0.87),(225,1.13),(228,0.85),(230,0.98),(232,1.09),(235,0.93),(238,1.03),(240,0.92),(242,1.1),(245,0.91),(248,0.88),(250,0.89),(255,0.95),(258,1.03),(260,0.98),(262,0.92),(265,1.06),(270,1.0),(272,1.01),(278,0.86),(282,1.03),(297,1.05),(305,0.79),(306,0.72),(315,0.82),(315,0.75),(354,1.025),(358,0.56),(360,0.73),(381,0.62),(381,0.57),(409,0.95),(409,0.82),(438,0.88),(438,0.82)]

P17 = [(4,1.52),(5,1.45),(6,1.4),(8,1.5),(10,1.38),(12,1.32),(14,1.48),(15,1.22),(16,1.56),(18,1.58),(18,1.2),(20,1.45),(20,1.25),(22,1.35),(22,1.18),(24,1.2),(25,1.3),(26,1.16),(28,1.22),(30,1.15),(30,1.5),(32,1.1),(33,1.45),(34,1.05),(35,1.18),(36,1.32),(38,1.0),(38,1.5),(40,1.12),(40,1.43),(42,1.02),(43,1.35),(44,1.08),(45,1.48),(46,1.02),(48,1.3),(48,1.05),(50,1.1),(52,1.25),(52,1.0),(54,1.38),(55,1.05),(56,1.2),(58,1.03),(60,1.02),(60,1.3),(62,0.98),(64,1.05),(65,1.15),(66,1.0),(68,0.95),(70,1.05),(72,0.93),(74,1.08),(76,0.94),(78,1.02),(80,0.92),(82,1.05),(85,1.0),(88,1.02),(90,1.07),(92,1.05),(94,0.98),(95,1.08),(98,1.1),(100,1.06),(102,1.1),(104,0.97),(105,1.12),(108,1.12),(110,1.13),(112,1.12),(115,1.25),(118,1.12),(120,1.1),(122,1.06),(125,1.05),(128,1.02),(130,1.0),(132,0.97),(135,0.95),(138,0.93),(140,0.92),(142,1.06),(145,0.94),(148,0.92),(150,0.9),(152,0.88),(155,0.91),(158,1.05),(160,1.06),(162,0.88),(165,0.85),(168,0.87),(170,0.83),(172,0.9),(175,0.85),(178,0.88),(180,0.84),(182,0.82),(185,0.86),(188,0.8),(190,0.78),(192,0.83),(195,0.8),(198,0.77),(200,0.82),(202,0.78),(205,0.76),(208,0.8),(210,0.77),(212,0.74),(215,0.8),(218,0.9),(220,0.76),(222,0.73),(225,0.78),(228,0.72),(230,0.75),(232,0.7),(235,0.72),(238,0.7),(240,0.68),(242,0.67),(245,0.72),(248,0.82),(250,0.63),(252,0.6),(254,0.83),(255,0.6),(261,0.61),(266,0.67),(270,0.7),(272,0.74),(277,0.75),(290,0.59),(291,0.7),(298,0.59),(311,0.545),(336,0.477),(345,0.46),(362,0.44),(369,0.355),(375,0.355),(384,0.33),(406,0.33),(412,0.33),(436,0.336)]

P18 = [(5,0.4),(8,0.39),(10,0.41),(12,0.37),(15,0.4),(18,0.38),(20,0.41),(22,0.35),(25,0.39),(28,0.36),(30,0.4),(32,0.34),(35,0.38),(38,0.41),(40,0.36),(42,0.39),(45,0.33),(48,0.37),(50,0.4),(52,0.34),(55,0.38),(58,0.35),(60,0.3),(62,0.37),(65,0.33),(68,0.31),(70,0.36),(72,0.34),(75,0.3),(78,0.35),(80,0.32),(82,0.36),(85,0.31),(88,0.35),(90,0.3),(92,0.34),(95,0.35),(98,0.3),(100,0.33),(102,0.35),(105,0.31),(108,0.34),(110,0.36),(112,0.3),(115,0.33),(118,0.37),(120,0.32),(125,0.31),(130,0.35),(132,0.28),(135,0.27),(138,0.3),(140,0.25),(142,0.26),(145,0.28),(150,0.33),(152,0.26),(155,0.21),(158,0.2),(160,0.32),(162,0.22),(165,0.34),(168,0.14),(170,0.29),(172,0.21),(175,0.31),(176,0.19),(178,0.25),(180,0.33),(182,0.11),(185,0.34),(188,0.14),(190,0.29),(192,0.32),(195,0.33),(198,0.15),(200,0.29),(202,0.08),(205,0.33),(208,0.1),(210,0.29),(212,0.3),(215,0.16),(218,0.11),(220,0.3),(222,0.34),(225,0.31),(228,0.09),(230,0.14),(232,0.13),(235,0.16),(240,0.35),(245,0.19),(248,0.35),(250,0.12),(255,0.3),(258,0.35),(264,0.3),(278,0.29),(289,0.15),(292,0.297),(292,0.31),(303,0.04),(309,0.05),(316,0.01),(367,0.013),(378,0.123),(384,0.058),(410,0.032),(416,0.204),(438,0.123),(438,0.065),
       (7,0.385),(14,0.38),(24,0.37),(34,0.36),(44,0.355),(54,0.345),(64,0.36),(74,0.34),(84,0.33)]

P19 = [(3,4.95),(6,4.97),(9,4.93),(12,4.96),(15,4.92),(18,4.95),(21,4.9),(24,4.94),(27,4.89),(30,4.92),(33,4.88),(36,4.91),(39,4.86),(42,4.9),(45,4.85),(48,4.88),(51,4.84),(54,4.87),(57,4.83),(60,4.86),(63,4.82),(66,4.85),(69,4.81),(72,4.84),(75,4.8),(78,4.83),(81,4.79),(84,4.82),(87,4.78),(90,4.81),(93,4.77),(96,4.8),(99,4.76),(102,4.79),(105,4.75),(108,4.78),(111,4.74),(114,4.77),(117,4.73),(120,4.76),(123,4.72),(126,4.75),(129,4.71),(132,4.74),(135,4.7),(138,4.73),(141,4.69),(144,4.72),(147,4.68),(150,4.71),(153,4.67),(156,4.7),(159,4.66),(162,4.69),(165,4.65),(168,4.68),(171,4.64),(174,4.67),(177,4.63),(180,4.66),(183,4.62),(186,4.65),(189,4.61),(192,4.64),(195,4.6),(198,4.63),(201,4.59),(204,4.62),(207,4.58),(210,4.61),(213,4.57),(216,4.6),(219,4.56),(222,4.59),(225,4.55),(228,4.58),(231,4.54),(234,4.57),(237,4.53),(240,4.56),(244,4.52),(248,4.55),(252,4.5),(256,4.53),(260,4.49),(264,4.52),(268,4.48),(272,4.5),(276,4.47),(280,4.49),(288,4.31),(290,4.26),(299,4.46),(311,4.34),(320,4.38),(349,4.12),(352,4.34),(365,4.23),(372,4.31),(376,4.12),(386,4.34),(408,4.12),(429,4.12),(436,4.23),
       (4,5.02),(8,4.85),(14,5.0),(20,4.82),(26,4.98),(32,4.8),(38,4.96),(44,4.78),(50,4.94),(56,4.75),(62,4.92),(68,4.73),(74,4.9),(80,4.7),(86,4.88),(92,4.68),(98,4.86),(104,4.66),(110,4.84),(116,4.64),(122,4.82),(128,4.62),(134,4.8),(140,4.6),(146,4.78),(152,4.58),(158,4.76),(164,4.56),(170,4.74),(176,4.55),(182,4.72),(188,4.53),(194,4.7),(200,4.51),(206,4.68),(212,4.49),(218,4.66),(224,4.47),(230,4.64),(236,4.45),(242,4.62),(248,4.43),(254,4.6),(260,4.41),(266,4.57),(272,4.4),(278,4.55),(284,4.38)]

P20 = [(4,0.49),(6,0.48),(8,0.47),(10,0.47),(12,0.46),(15,0.46),(18,0.47),(20,0.46),(22,0.45),(24,0.48),(25,0.45),(28,0.44),(30,0.46),(32,0.43),(35,0.44),(38,0.42),(40,0.45),(42,0.41),(45,0.4),(48,0.42),(50,0.4),(52,0.44),(55,0.39),(58,0.41),(60,0.38),(62,0.43),(65,0.37),(68,0.41),(70,0.36),(72,0.4),(75,0.45),(75,0.35),(78,0.38),(80,0.34),(82,0.37),(85,0.34),(86,0.41),(88,0.33),(90,0.32),(92,0.36),(95,0.31),(98,0.34),(100,0.44),(100,0.31),(104,0.44),(105,0.3),(108,0.29),(110,0.3),(113,0.43),(115,0.25),(118,0.41),(119,0.4),(120,0.28),(125,0.27),(130,0.32),(132,0.25),(135,0.31),(138,0.29),(141,0.35),(145,0.36),(150,0.34),(161,0.36),(163,0.34),(173,0.32),(182,0.32),(186,0.295),(189,0.243),(192,0.254),(195,0.243),(140,0.24),(142,0.27),(145,0.24),(150,0.23),(155,0.24),(160,0.22),(165,0.23),(168,0.2),(170,0.21),(172,0.24),(175,0.2),(178,0.22),(180,0.19),(182,0.21),(185,0.18),(188,0.22),(190,0.2),(192,0.21),(195,0.17),(200,0.24),(205,0.21),(210,0.17),(212,0.24),(215,0.2),(220,0.19),(225,0.23),(230,0.22),(235,0.17),(240,0.22),(245,0.18),(250,0.21),(255,0.21),(260,0.21),(274,0.146),(276,0.228),(280,0.142),(290,0.157),(294,0.146),(296,0.15),(300,0.238),(309,0.246),(314,0.254),(349,0.246),(372,0.258),(381,0.18),(382,0.246),(418,0.2),(438,0.205),(440,0.218),
       (9,0.475),(16,0.465),(27,0.455),(37,0.44),(47,0.43),(57,0.42),(67,0.4)]

P21 = [(5,1.105),(7,1.11),(12,1.105),(16,1.1),(21,1.09),(25,1.07),(30,1.05),(35,1.03),(39,1.0),(44,0.97),(48,0.93),(53,0.9),(57,0.87),(62,0.84),(66,0.79),(71,0.75),(76,0.71),(78,0.68),(80,0.66),(85,0.62),(87,0.61),(89,0.59),(94,0.58),(96,0.54),(103,0.5),(108,0.49),(112,0.47),(117,0.46),(119,0.45),(126,0.53),(135,0.6),(139,0.58),(144,0.43),(146,0.42),(153,0.465),(158,0.476),(162,0.51),(164,0.62),(169,0.645),(173,0.656),(175,0.937),(178,0.68),(178,0.54),(183,0.7),(185,0.49),(187,0.71),(189,0.476),(194,0.72),(196,0.52),(199,0.555),(201,0.72),(205,0.54),(208,0.72),(210,0.465),(212,0.5),(215,0.72),(217,0.61),(221,0.72),(221,0.465),(226,0.616),(228,0.73),(235,0.72),(242,0.735),(246,0.645),(249,0.746),(256,0.757),(257,0.62),(257,0.59),(262,0.746),(269,0.54),(276,0.5),(280,0.47),(281,0.667),(284,0.72),(289,0.73),(294,0.425),(307,0.708),(312,0.674),(316,0.678),(327,0.672),(361,0.526),(364,0.443),(378,0.41),(383,0.41),(409,0.46),(417,0.46),(439,0.46),(441,0.46),(46,1.1),(53,1.095),(62,1.095),(73,1.08),(82,1.04),(87,1.03),(66,0.99),(71,0.94),(80,0.97),(84,0.96),(87,0.88),(94,0.89),(98,0.79),(108,0.87),(110,0.84),(117,0.67),(126,0.7),(98,0.75),(89,0.78),(78,0.86),(62,0.9),(57,0.84),
       (9,1.1),(14,1.09),(19,1.08),(23,1.06),(28,1.04),(33,1.02),(37,0.99),(42,0.96),(46,0.94),(51,0.91),(55,0.88),(60,0.85),(64,0.81),(69,0.77),(74,0.73),(116,0.47),(121,0.46),(143,0.44),(147,0.43),(152,0.47),(170,0.66),(190,0.72),(197,0.72),(224,0.72),(232,0.72),(239,0.73),(252,0.75),(259,0.75)]

P22 = [(5,1.2),(6,1.23),(8,1.18),(10,1.25),(12,1.15),(14,1.21),(16,1.13),(18,1.19),(20,1.24),(22,1.1),(24,1.16),(26,1.2),(28,1.12),(30,1.18),(32,1.09),(34,1.15),(36,1.22),(38,1.11),(40,1.17),(42,1.13),(44,1.2),(46,1.1),(48,1.15),(50,1.22),(52,1.12),(55,1.18),(58,1.14),(60,1.2),(62,1.11),(65,1.17),(68,1.13),(70,1.21),(72,1.15),(75,1.1),(78,1.19),(80,1.14),(82,1.21),(85,1.12),(88,1.18),(90,1.15),(92,1.2),(95,1.1),(98,1.17),(100,1.13),(102,1.19),(105,1.08),(108,1.15),(110,1.05),(112,1.12),(115,1.24),(118,1.09),(120,1.16),(122,1.27),(125,1.12),(128,1.2),(130,1.05),(132,1.14),(135,1.22),(138,1.1),(140,1.18),(142,1.26),(145,1.13),(148,1.2),(150,1.08),(152,1.15),(155,1.22),(158,1.12),(160,1.18),(162,1.26),(165,1.1),(168,1.2),(170,1.16),(172,1.3),(175,1.22),(178,1.12),(180,1.31),(182,1.18),(185,1.02),(188,1.24),(190,1.36),(192,1.08),(195,1.2),(198,1.33),(200,1.13),(202,0.94),(205,1.27),(208,0.97),(210,1.14),(212,1.29),(215,1.04),(218,1.12),(220,1.0),(222,1.3),(225,1.05),(228,1.14),(230,1.03),(232,1.09),(235,1.0),(238,1.15),(240,1.05),(242,1.09),(245,0.98),(248,1.13),(250,1.2),(255,1.03),(258,1.23),(262,0.89),(265,1.24),(272,1.25),(274,0.9),(278,1.04),(279,1.24),(290,1.05),(290,1.18),(292,1.12),(299,0.94),(311,1.03),(313,0.97),(311,0.785),(340,1.15),(348,0.89),(370,1.06),(377,0.93),(383,1.08),(386,0.98),(399,1.22),(424,1.17),(433,1.19),(441,1.185)]

P23 = [(9,0.368),(10,0.349),(9,0.318),(9,0.3),(8,0.28),(8,0.257),(8,0.242),(8,0.232),(15,0.284),(17,0.26),(17,0.2),(19.6,0.25),(20.5,0.33),(23,0.36),(24,0.354),(25,0.34),(26,0.316),(25,0.288),(27,0.275),(27,0.38),(28.7,0.234),(30.5,0.265),(33,0.33),(35.5,0.198),(37.8,0.25),(38.7,0.349),(41,0.36),(43,0.353),(43,0.288),(45.5,0.238),(48,0.253),(49,0.33),(51.5,0.223),(52,0.276),(53.7,0.211),(54.6,0.3),(57,0.2),(58,0.31),(60.6,0.215),(61.5,0.253),(64,0.309),(66,0.2),(68,0.173),(70.6,0.238),(73,0.223),(75,0.309),(77,0.284),(77,0.253),(80,0.208),(80,0.185),(81,0.16),(82,0.139),(82,0.313),(84,0.298),(84,0.276),(86.5,0.246),(89,0.223),(91,0.192),(93,0.177),(95.6,0.166),(98,0.208),(100,0.234),(101.5,0.131),(102,0.246),(104.7,0.269),(107,0.292),(108,0.246),(109,0.227),(111.6,0.208),(114,0.192),(116,0.181),(117.5,0.158),(118,0.112),(119.8,0.139),(118,0.284),(118,0.3),(134,0.135),(135.7,0.2),(139,0.162),(141,0.185),(143.5,0.212),(145,0.158),(146,0.246),(149,0.135),(151.6,0.219),(152.6,0.154),(154,0.118),(156,0.185),(158,0.253),(159,0.162),(161.7,0.15),(164,0.238),(165,0.204),(167,0.131),(168.5,0.177),(170,0.269),(171.7,0.177),(173,0.154),(175,0.146),(177.6,0.139),(182,0.135),(184,0.261),(184,0.242),(184,0.219),(185,0.162),(186.7,0.118),(189,0.192),(191,0.146),(193.5,0.246),(196,0.139),(198,0.219),(200,0.173),(202.7,0.139),(206,0.261),(207,0.25),(209.5,0.2),(211,0.131),(212.7,0.246),(214,0.179),(216,0.127),(218.6,0.162),(221,0.212),(223,0.189),(224.5,0.269),(225,0.242),(226,0.124),(230,0.212),(231,0.192),(232,0.116),(234.5,0.242),(237,0.12),(239,0.112),(241,0.212),(244.5,0.143),(246,0.253),(247,0.2),(249,0.124),(253,0.135),(256,0.139),(259.6,0.24),(262,0.124),(265,0.202),(268,0.124),(271,0.146),(273,0.166),(275.5,0.24),(277,0.219),(278,0.192),(280,0.177),(282,0.124),(283.7,0.219),(284.6,0.24),(287,0.177),(291.5,0.148),(298,0.168),(305,0.168),(332,0.186),(337,0.175),(346,0.129),(356,0.168),(365,0.179),(372,0.164),(378,0.19),(430,0.2),(431.6,0.163),(435,0.13),(437,0.13),(438.6,0.163),(440,0.143),(439.5,0.163),
       (24,0.345),(26,0.33),(42,0.34),(80,0.29),(82,0.27),(83,0.3),(85,0.26),(106,0.28),(108,0.26),(110,0.29),(150,0.15),(155,0.14),(158,0.15),(190,0.13),(200,0.13),(210,0.125),(220,0.13),(228,0.12),(236,0.115),(244,0.12),(250,0.125)]

PANELS = [P00, P01, P02, P03, P04, P05, P06, P07, P08, P09, P10, P11,
          P12, P13, P14, P15, P16, P17, P18, P19, P20, P21, P22, P23]


def tick_list(step, top):
    vals, k = [], 0
    while k * step <= top + 1e-9:
        vals.append(round(k * step, 6))
        k += 1
    return vals


def axis(orient, values, size, labels):
    return alt.Axis(orient=orient, values=values, tickSize=size, offset=-size,
                    labels=labels, domain=False, grid=False, title="",
                    tickColor="black", tickWidth=1.1, labelFont=FONT,
                    labelFontSize=16, labelColor="black", labelPadding=7,
                    labelFlush=False, labelOverlap=False,
                    format="d" if orient in ("bottom", "top") else "~g")


def text_layer(txt, x, y, size, weight="normal", font=FONT, angle=0, align="left"):
    kw = dict(font=font, fontSize=size, fontWeight=weight, align=align,
              baseline="alphabetic", color="black")
    if angle:
        kw["angle"] = angle
    return alt.Chart(pd.DataFrame({"t": [txt]})).mark_text(**kw).encode(
        x=alt.value(x), y=alt.value(y), text="t:N")


def make_panel(i):
    df = pd.DataFrame(PANELS[i], columns=["r", "s"])
    xsc = alt.Scale(domain=[0, 500], nice=False, zero=False)
    ysc = alt.Scale(domain=[0, YMAX[i]], nice=False, zero=False)
    ymaj = tick_list(YSTEP[i], YMAX[i])
    ymin = [v for v in tick_list(YMINOR[i], YMAX[i]) if all(abs(v - m) > 1e-6 for m in ymaj)]
    bottom = i >= 21
    base = alt.Chart(df)
    pts = base.mark_point(shape=SYMBOL, size=36, filled=False, color="black",
                          strokeWidth=1.0, opacity=1).encode(
        x=alt.X("r:Q", scale=xsc, axis=axis("bottom", X_MAJOR, 8, bottom)),
        y=alt.Y("s:Q", scale=ysc, axis=axis("left", ymaj, 8, True)))
    l2 = base.mark_point(opacity=0).encode(
        x=alt.X("r:Q", scale=xsc, axis=axis("bottom", X_MINOR, 4, False)),
        y=alt.Y("s:Q", scale=ysc, axis=axis("left", ymin, 4, False)))
    l3 = base.mark_point(opacity=0).encode(
        x=alt.X("r:Q", scale=xsc, axis=axis("top", X_MAJOR, 8, False)),
        y=alt.Y("s:Q", scale=ysc, axis=axis("right", ymaj, 8, False)))
    l4 = base.mark_point(opacity=0).encode(
        x=alt.X("r:Q", scale=xsc, axis=axis("top", X_MINOR, 4, False)),
        y=alt.Y("s:Q", scale=ysc, axis=axis("right", ymin, 4, False)))
    layers = [pts, l2, l3, l4,
              text_layer(NAMES[i], W - 130, 22, 17, weight="bold", align="right"),
              text_layer(DATES[i], W - 16, 22, 17, align="right")]
    if i == 12:
        layers += [text_layer("S", -86, 92, 40, font=SERIF, angle=270),
                   text_layer("c", -65, 60, 24, font=SERIF, angle=270),
                   text_layer("(Jy)", -81, 19, 46, font=SERIF, angle=270)]
    if i == 22:
        layers += [text_layer("r", 90, 288, 40, font=SERIF),
                   text_layer("uv", 104, 302, 24, font=SERIF),
                   text_layer("(Mλ)", 157, 288, 44, font=SERIF)]
    return alt.layer(*layers).resolve_axis(x="independent", y="independent").properties(
        width=W, height=H)


panels = [make_panel(i) for i in range(24)]

chart = alt.concat(*panels, columns=3, spacing={"row": 0, "column": 47},
                   bounds="flush").configure_view(
    stroke="black", strokeWidth=1.5).properties(
    padding={"left": 3, "top": 0, "right": 5, "bottom": 5}, background="white")

chart.save("out.html", embed_options={"renderer": "svg", "actions": False})
